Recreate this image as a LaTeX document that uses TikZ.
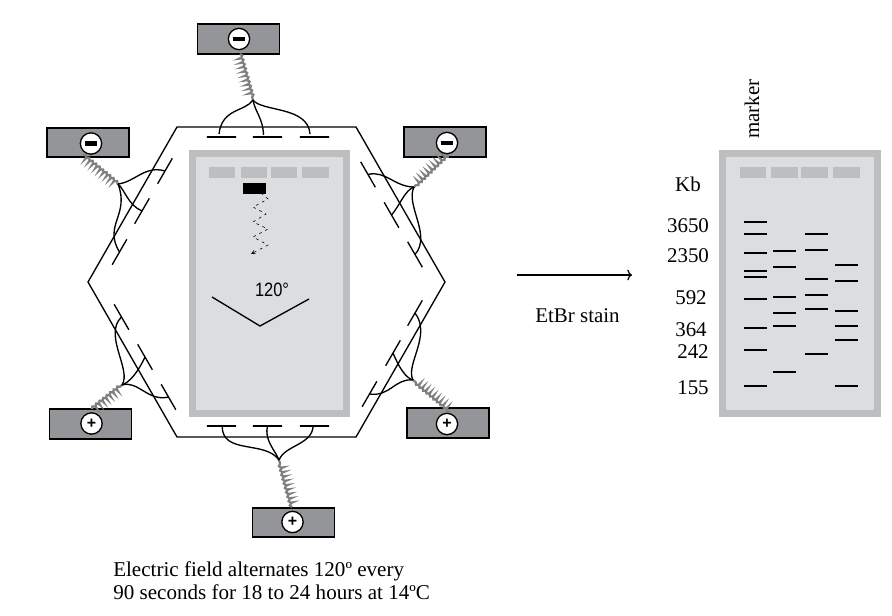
\documentclass[tikz,border=0pt]{standalone}
\usepackage{fontspec}
\setmainfont{Liberation Serif}
\setsansfont{Liberation Sans}
\usetikzlibrary{decorations.pathmorphing,arrows.meta}
\definecolor{gelrim}{HTML}{BCBEC0}
\definecolor{gelbed}{HTML}{DCDDDF}
\definecolor{boxgray}{HTML}{939598}
\begin{document}
\begin{tikzpicture}[x=0.75pt,y=-0.75pt,line join=miter,
    rim/.style={draw=none,fill=gelrim},
    bed/.style={draw=none,fill=gelbed},
    well/.style={draw=none,fill=gelrim},
    band/.style={line width=1.4pt},
    wire/.style={line width=1pt},
    plate/.style={draw,line width=1pt,inner sep=0pt,minimum width=22pt,minimum height=0pt},
    heavy/.style={line width=1.35pt},
    ebox/.style={draw,line width=1.3pt,fill=boxgray,inner sep=0pt,minimum width=61.5pt,minimum height=22pt},
    pole/.style={draw,line width=1pt,fill=white,circle,inner sep=0pt,minimum size=16pt,font=\bfseries\sffamily\fontsize{12}{12}\selectfont},
    spring/.style={draw=black!50,line width=1.7pt,decorate,decoration={coil,aspect=0.5,segment length=3.4pt,amplitude=1.3pt}},
    lab/.style={font=\fontsize{15.7}{18}\selectfont,inner sep=0pt}]
  \useasboundingbox (0,0) rectangle (892,615);
  % hexagon chamber and gel
  \draw[wire] (177,127) -- (356,127) -- (445,282) -- (356,437) -- (177,437) -- (88,282) -- cycle;
  \path[rim] (189,150) rectangle (350,417);
  \path[bed] (196,157) rectangle (343,410);
  \foreach \wl/\wr in {209/235,241/267,271/297,302/329} {\path[well] (\wl,167) rectangle (\wr,178);}
  \path[fill=black] (243,183) rectangle (266,194);
  \draw[line width=0.45pt,dash pattern=on 2pt off 3pt,-stealth] (261,193) -- (268,199) -- (253,207) -- (266,214) -- (253,222) -- (268,229) -- (253,237) -- (268,245) -- (251,254);
  \draw[line width=1pt] (212,297) -- (260,326) -- (309,299);
  \node[font=\sffamily\fontsize{14.5}{15}\selectfont,xscale=0.85,inner sep=0pt] (angle) at (272,290) {120°};
  % electrode boxes
  \node[ebox] (bt) at (238.5,39) {};
  \node[ebox] (btl) at (88,142.5) {};
  \node[ebox] (btr) at (445,142) {};
  \node[ebox] (bbl) at (90.5,424) {};
  \node[ebox] (bbr) at (448,423) {};
  \node[ebox] (bb) at (293.5,522.5) {};
  % junctions and spring ends
  \coordinate (jt) at (253,100);
  \coordinate (jtl) at (118,184);
  \coordinate (jtr) at (414,187);
  \coordinate (jbl) at (122,385);
  \coordinate (jbr) at (413,380);
  \coordinate (jb) at (279,460);
  \coordinate (st) at (240,54);
  \coordinate (stl) at (83,155);
  \coordinate (str) at (448,154);
  \coordinate (sbl) at (92,409);
  \coordinate (sbr) at (450,411);
  \coordinate (sb) at (292,507);
  \draw[spring] (st) -- (jt);
  \draw[spring] (stl) -- (jtl);
  \draw[spring] (str) -- (jtr);
  \draw[spring] (sbl) -- (jbl);
  \draw[spring] (sbr) -- (jbr);
  \draw[spring] (sb) -- (jb);
  \node[pole] (ct) at (239,39) {\rule{9.5pt}{3.6pt}};
  \node[pole] (ctl) at (91,143.5) {\rule{9.5pt}{3.6pt}};
  \node[pole] (ctr) at (447,143) {\rule{9.5pt}{3.6pt}};
  \node[pole] (cbl) at (91.5,423.5) {+};
  \node[pole] (cbr) at (447,424) {+};
  \node[pole] (cb) at (292.5,522) {+};
  % plates
  \node[plate] (pt1) at (221.5,137) {};
  \node[plate,heavy] (pt2) at (267.5,137) {};
  \node[plate] (pt3) at (314.5,137) {};
  \node[plate,rotate=60] (ptl1) at (165,171) {};
  \node[plate,rotate=60] (ptl2) at (142,211) {};
  \node[plate,rotate=60] (ptl3) at (119.5,252) {};
  \node[plate,rotate=-60] (ptr1) at (368,174.5) {};
  \node[plate,rotate=-60] (ptr2) at (391.5,215) {};
  \node[plate,rotate=-60] (ptr3) at (415,254.5) {};
  \node[plate,rotate=-60] (pbl1) at (121.5,317) {};
  \node[plate,rotate=-60] (pbl2) at (145,357) {};
  \node[plate,rotate=-60] (pbl3) at (168.5,397) {};
  \node[plate,rotate=60] (pbr1) at (415,313) {};
  \node[plate,rotate=60] (pbr2) at (393,353) {};
  \node[plate,rotate=60] (pbr3) at (369.5,394) {};
  \node[plate] (pb1) at (221.5,426) {};
  \node[plate] (pb2) at (267.5,426) {};
  \node[plate,heavy] (pb3) at (314.5,426) {};
  % wires
  \draw[wire] (jt) .. controls (245,112) and (222,108) .. ([shift={(-2.5,-3)}]pt1.center);
  \draw[wire] (jt) .. controls (255,112) and (263,118) .. ([shift={(-4,-2)}]pt2.center);
  \draw[wire] (jt) .. controls (262,112) and (308,106) .. ([shift={(-4.5,-3)}]pt3.center);
  \draw[wire] (jtl) .. controls (135,182) and (145,165) .. (ptl1.center);
  \draw[wire] (jtl) .. controls (125,190) and (128,205) .. (ptl2.center);
  \draw[wire] (jtl) .. controls (130,215) and (103,225) .. (ptl3.center);
  \draw[wire] (jtr) .. controls (395,187) and (385,170) .. (ptr1.center);
  \draw[wire] (jtr) .. controls (405,190) and (400,205) .. (ptr2.center);
  \draw[wire] (jtr) .. controls (405,205) and (432,235) .. (ptr3.center);
  \draw[wire] (jbl) .. controls (132,370) and (103,335) .. (pbl1.center);
  \draw[wire] (jbl) .. controls (130,382) and (138,372) .. (pbl2.center);
  \draw[wire] (jbl) .. controls (138,380) and (148,402) .. (pbl3.center);
  \draw[wire] (jbr) .. controls (405,365) and (432,335) .. (pbr1.center);
  \draw[wire] (jbr) .. controls (405,378) and (398,365) .. (pbr2.center);
  \draw[wire] (jbr) .. controls (395,378) and (390,397) .. (pbr3.center);
  \draw[wire] (jb) .. controls (265,440) and (222,455) .. ([xshift=0.5pt]pb1.center);
  \draw[wire] (jb) .. controls (275,450) and (264,440) .. (pb2.center);
  \draw[wire] (jb) .. controls (285,445) and (312,445) .. ([xshift=-1pt]pb3.center);
  % stained gel
  \path[rim] (719,150) rectangle (881,417);
  \path[bed] (726,157) rectangle (874,410);
  \foreach \wl/\wr in {740/766,771/798,801/828,833/860} {\path[well] (\wl,167) rectangle (\wr,178);}
  \foreach \by in {221.7,233.7,252.7,270.7,276.7,298.7,327.7,349.7,385.7} {\draw[band] (744,\by) -- (767,\by);}
  \foreach \by in {250.7,266.7,296.7,312.7,325.7,371.7} {\draw[band] (773,\by) -- (796,\by);}
  \foreach \by in {233.7,249.7,278.7,294.7,308.7,353.7} {\draw[band] (805,\by) -- (828,\by);}
  \foreach \by in {264.7,280.7,310.7,325.7,339.7,385.7} {\draw[band] (835,\by) -- (858,\by);}
  \node[lab,rotate=90] (marker) at (752,109) {marker};
  \node[lab] (kb) at (688,184) {Kb};
  \node[lab] (k3650) at (688,226) {3650};
  \node[lab] (k2350) at (688,256) {2350};
  \node[lab] (k592) at (691,298) {592};
  \node[lab] (k364) at (691,330) {364};
  \node[lab] (k242) at (693,352) {242};
  \node[lab] (k155) at (693,388) {155};
  % stain step
  \coordinate (from) at (517,275);
  \coordinate (to) at (632,275);
  \draw[-{To[length=3.5pt,width=8pt]},line width=0.9pt] (from) -- (to);
  \node[lab] (stain) at (577.5,316) {EtBr stain};
  \node[lab,anchor=west,align=left,font=\fontsize{15.8}{17.3}\selectfont] (note) at (113,580.5) {Electric field alternates 120º every\\90 seconds for 18 to 24 hours at 14ºC};
\end{tikzpicture}
\end{document}
